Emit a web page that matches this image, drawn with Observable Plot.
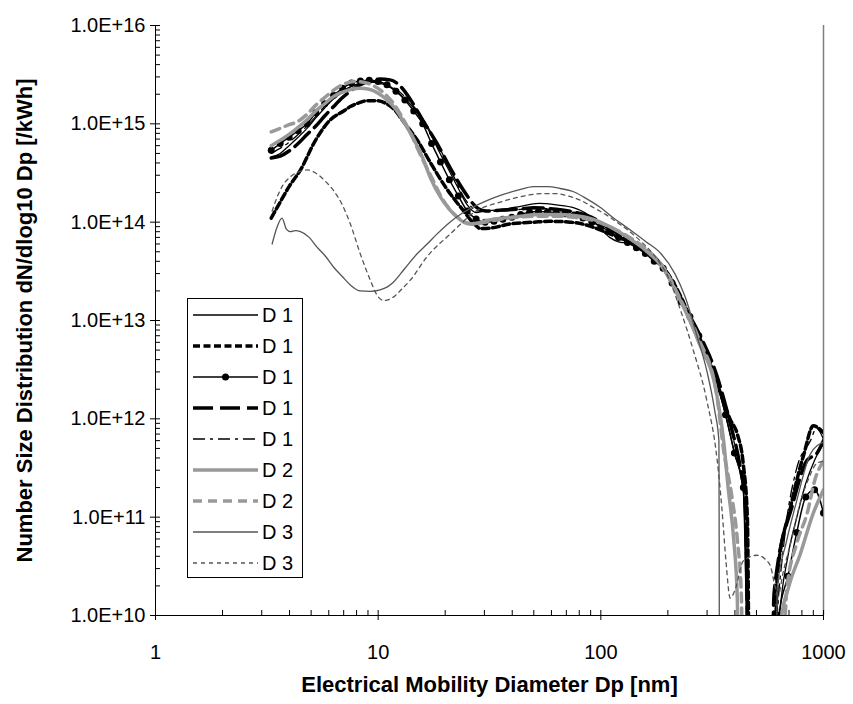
<!DOCTYPE html>
<html><head><meta charset="utf-8">
<script src="https://cdn.jsdelivr.net/npm/d3@7"></script>
<script src="https://cdn.jsdelivr.net/npm/@observablehq/plot@0.6"></script>
<style>body{margin:0;background:#fff;} #chart{width:853px;height:704px;}</style>
</head><body><div id="chart"></div>
<script>
const xTicksMajor = [1, 10, 100, 1000];
const xTickLabels = ["1", "10", "100", "1000"];
const yTicksMajor = [1e10, 1e11, 1e12, 1e13, 1e14, 1e15, 1e16];
const yTickLabels = ["1.0E+10", "1.0E+11", "1.0E+12", "1.0E+13", "1.0E+14", "1.0E+15", "1.0E+16"];
const xTitle = "Electrical Mobility Diameter Dp [nm]";
const yTitle = "Number Size Distribution dN/dlog10 Dp [/kWh]";
const legendLabels = ["D 1", "D 1", "D 1", "D 1", "D 1", "D 2", "D 2", "D 3", "D 3"];

// [diameter nm, dN/dlogDp]
const d1Thin = [[3.31,4.6e14],[3.63,5.0e14],[3.98,6.0e14],[4.37,7.3e14],[4.79,9.0e14],[5.25,1.15e15],[5.75,1.45e15],[6.31,1.8e15],[6.92,2.1e15],[7.59,2.4e15],[8.32,2.55e15],[9.12,2.65e15],[10.0,2.6e15],[10.96,2.45e15],[12.02,2.15e15],[13.18,1.8e15],[14.45,1.45e15],[15.85,1.1e15],[17.38,7.5e14],[19.05,4.9e14],[20.89,3.3e14],[22.91,2.2e14],[25.12,1.5e14],[27.54,1.25e14],[30.2,1.3e14],[36.31,1.35e14],[43.65,1.45e14],[52.48,1.55e14],[63.1,1.5e14],[75.86,1.4e14],[91.2,1.1e14],[100,8.5e13],[109.6,7.0e13],[120.2,6.3e13],[131.8,6.1e13],[158.5,5.0e13],[190.5,3.3e13],[229.1,1.5e13],[275.4,6.5e12],[331.1,2.3e12],[363.1,1.1e12],[398.1,4.5e11],[436.5,1.8e11],[470,1e8],[600,1e8],[631,8e9],[692,4e10],[759,1.0e11],[832,2.2e11],[912,3.8e11],[1000,5.6e11]];
const d1Dash = [[3.31,1.1e14],[3.63,1.6e14],[3.98,2.3e14],[4.48,3.4e14],[5.23,6.8e14],[6.1,1.1e15],[7.0,1.35e15],[7.5,1.5e15],[8.3,1.65e15],[8.9,1.72e15],[9.9,1.72e15],[10.8,1.62e15],[11.8,1.4e15],[13.0,1.05e15],[15.0,6.8e14],[17.2,4.0e14],[20.0,2.3e14],[24.2,1.3e14],[27.0,9.6e13],[28.8,8.6e13],[33,8.8e13],[39,9.6e13],[50,1.0e14],[59,1.02e14],[73,1.0e14],[87,9.3e13],[100,8.3e13],[120,7.0e13],[140,6.0e13],[170,4.5e13],[200,3.0e13],[230,1.7e13],[260,9e12],[300,4.5e12],[340,2.0e12],[380,1.0e12],[410,7.0e11],[436,3.5e11],[455,1e11],[470,1e8],[590,1e8],[620,2.5e10],[711,1.26e11],[817,4.4e11],[900,8.5e11],[1000,7.2e11]];
const d1Mark = [[3.31,5.4e14],[3.63,6.3e14],[3.98,7.3e14],[4.37,8.5e14],[4.79,1.0e15],[5.25,1.3e15],[5.75,1.6e15],[6.31,1.95e15],[6.92,2.3e15],[7.59,2.6e15],[8.32,2.72e15],[9.12,2.78e15],[10.0,2.7e15],[10.96,2.5e15],[12.02,2.15e15],[13.18,1.75e15],[14.45,1.35e15],[15.85,1.0e15],[17.38,6.3e14],[19.05,4.1e14],[20.89,2.7e14],[22.91,1.85e14],[25.12,1.3e14],[27.54,1.08e14],[30.2,1.0e14],[33.11,1.02e14],[36.31,1.07e14],[39.81,1.12e14],[43.65,1.2e14],[47.86,1.26e14],[52.48,1.28e14],[57.54,1.27e14],[63.1,1.25e14],[69.18,1.22e14],[75.86,1.18e14],[83.18,1.1e14],[91.2,1.0e14],[100,9.0e13],[109.6,8.0e13],[120.2,7.0e13],[131.8,6.2e13],[144.5,5.5e13],[158.5,4.8e13],[173.8,4.0e13],[190.5,3.4e13],[208.9,2.4e13],[229.1,1.55e13],[251.2,1.1e13],[275.4,7.0e12],[302,4.3e12],[331.1,2.4e12],[363.1,1.1e12],[398.1,4.5e11],[436.5,2.0e11],[478.6,1e8],[524.8,1e8],[575.4,1e8],[631,1.0e10],[691.8,2.5e10],[758.6,7.0e10],[831.8,1.6e11],[912,1.9e11],[1000,1.1e11]];
const d1Long = [[3.31,4.5e14],[3.63,4.7e14],[3.98,5.3e14],[4.37,6.3e14],[4.79,7.8e14],[5.25,9.5e14],[5.75,1.2e15],[6.31,1.5e15],[6.92,1.85e15],[7.59,2.2e15],[8.32,2.5e15],[9.12,2.72e15],[10.2,2.85e15],[11.3,2.8e15],[12.5,2.45e15],[14.0,1.75e15],[16.0,1.05e15],[18.4,6.3e14],[21,3.6e14],[24.2,2.1e14],[28.2,1.37e14],[30.6,1.3e14],[36,1.33e14],[43,1.36e14],[50,1.4e14],[63,1.35e14],[75,1.27e14],[91,1.12e14],[110,8.5e13],[130,6.8e13],[158,5.3e13],[190,3.5e13],[229,1.6e13],[275,7.5e12],[331,2.8e12],[381,9e11],[420,3.5e11],[445,1.5e11],[470,1e8],[575,1e8],[600,1.7e10],[730,1.4e11],[845,3.8e11],[930,4.4e11],[1000,6e11]];
const d1DashDot = [[3.31,5.0e14],[3.98,6.5e14],[4.79,9.5e14],[5.75,1.5e15],[6.92,2.15e15],[8.32,2.6e15],[9.5,2.7e15],[10.5,2.6e15],[12.02,2.25e15],[14.45,1.5e15],[17.38,8.0e14],[20.89,3.6e14],[25.12,1.6e14],[28,1.3e14],[30.2,1.28e14],[36.31,1.3e14],[43.65,1.35e14],[52.48,1.38e14],[63.1,1.35e14],[75.86,1.28e14],[91.2,1.12e14],[109.6,8.8e13],[131.8,6.8e13],[158.5,5.2e13],[190.5,3.4e13],[229.1,1.55e13],[275.4,7e12],[331.1,2.6e12],[381,8.5e11],[420,3e11],[445,1.2e11],[470,1e8],[575,1e8],[610,5e9],[664,5.4e10],[754,3.0e11],[874,6.0e11],[930,8.0e11],[1000,6.2e11]];
const d2Solid = [[3.31,6.0e14],[3.63,6.8e14],[3.98,7.8e14],[4.37,9.2e14],[4.79,1.1e15],[5.25,1.35e15],[5.75,1.6e15],[6.31,1.9e15],[6.92,2.1e15],[7.59,2.25e15],[8.32,2.3e15],[9.12,2.25e15],[10.0,2.05e15],[10.96,1.75e15],[12.02,1.4e15],[13.18,1.0e15],[14.45,7e14],[15.85,4.5e14],[17.2,2.8e14],[19.05,1.8e14],[20.89,1.35e14],[22.91,1.1e14],[24.2,1.0e14],[26,9.6e13],[28,9.8e13],[30.2,1.03e14],[36.31,1.1e14],[43.65,1.15e14],[52.48,1.2e14],[63.1,1.2e14],[75.86,1.17e14],[91.2,1.08e14],[109.6,9.0e13],[131.8,7.0e13],[158.5,5.2e13],[190.5,3.4e13],[229.1,1.55e13],[275.4,6e12],[331.1,1.8e12],[356,6e11],[373,2e11],[395,6e10],[410,1.5e10],[425,1e8],[600,1e8],[640,8e9],[700,2e10],[786,4.2e10],[900,1.1e11],[1000,1.9e11]];
const d2Dash = [[3.31,8.3e14],[3.63,9.0e14],[3.98,9.8e14],[4.33,1.05e15],[4.79,1.25e15],[5.25,1.55e15],[5.75,1.85e15],[6.31,2.2e15],[6.92,2.5e15],[7.8,2.7e15],[8.6,2.65e15],[9.5,2.45e15],[10.5,2.1e15],[11.5,1.7e15],[12.6,1.25e15],[14.0,8e14],[15.5,4.8e14],[17.2,3.0e14],[19.5,1.7e14],[22,1.2e14],[24.5,1.0e14],[27,9.5e13],[30.2,1.0e14],[36.31,1.08e14],[43.65,1.13e14],[52.48,1.15e14],[63.1,1.15e14],[75.86,1.12e14],[91.2,1.05e14],[109.6,9e13],[131.8,7.2e13],[158.5,5.4e13],[190.5,3.5e13],[229.1,1.6e13],[275.4,6.5e12],[331.1,1.8e12],[356,4.8e11],[388,1.6e11],[410,6e10],[428,1.5e10],[440,1e8],[620,1e8],[685,1.9e10],[760,5.5e10],[845,1.1e11],[920,2.5e11],[1000,3.7e11]];
const d3Solid = [[3.34,6e13],[3.52,9e13],[3.7,1.1e14],[3.87,8.5e13],[4.04,8e13],[4.25,8.2e13],[4.48,8e13],[4.9,7e13],[5.3,5.6e13],[5.8,4.5e13],[6.3,3.5e13],[6.9,2.8e13],[7.5,2.3e13],[8.3,2.0e13],[9.2,1.98e13],[10.2,2.05e13],[11.0,2.2e13],[11.7,2.45e13],[13.2,3.4e13],[15.0,4.8e13],[16.6,6e13],[18.4,7.6e13],[21,1.0e14],[24.2,1.26e14],[29.7,1.6e14],[35.4,1.87e14],[42,2.1e14],[49.9,2.3e14],[58,2.3e14],[65.7,2.2e14],[75,2.05e14],[83.9,1.8e14],[100,1.4e14],[114,1.1e14],[125,9.5e13],[140,7.9e13],[160,6.3e13],[186,4.8e13],[215,3.0e13],[240,1.7e13],[270,7e12],[300,3e12],[325,1.2e12],[339,6e11],[342,1e8],[605,1e8],[620,1.9e10],[680,5.5e10],[754,1.4e11],[874,4.4e11],[1000,5.8e11]];
const d3Dot = [[3.34,1.3e14],[3.45,1.6e14],[3.7,2.3e14],[4.04,2.9e14],[4.5,3.3e14],[4.8,3.4e14],[5.3,3.1e14],[5.8,2.6e14],[6.3,2.1e14],[6.9,1.5e14],[7.5,9.6e13],[8.3,4.8e13],[9.2,2.6e13],[9.9,1.8e13],[10.6,1.6e13],[11.7,1.73e13],[12.8,2.1e13],[14.0,2.6e13],[16.5,4.4e13],[21.1,7.6e13],[27.6,1.3e14],[35.4,1.6e14],[43,1.8e14],[53.9,1.95e14],[63,1.95e14],[71,1.85e14],[82,1.65e14],[93,1.4e14],[105,1.2e14],[118,1.0e14],[135,8e13],[150,6.5e13],[175,4.5e13],[200,2.8e13],[230,1.2e13],[260,5e12],[298,1.6e12],[333,3.8e11],[350,1.2e11],[365,3.5e10],[381,1.5e10],[400,1.8e10],[437,3.6e10],[503,4.1e10],[550,3.7e10],[580,3.1e10],[605,2.0e10],[625,1.6e10],[660,2.8e10],[720,6e10],[786,1.4e11],[860,2.5e11],[930,3.5e11],[1000,3.7e11]];

const series = [
  {data: d1Thin, stroke: "#000", w: 1.3},
  {data: d1Dash, stroke: "#000", w: 3.5, dash: "7,3.5"},
  {data: d1Mark, stroke: "#000", w: 1.5, marker: true},
  {data: d1Long, stroke: "#000", w: 3.5, dash: "20,7"},
  {data: d1DashDot, stroke: "#000", w: 1.3, dash: "12,5,3,5"},
  {data: d2Solid, stroke: "#999", w: 3.5},
  {data: d2Dash, stroke: "#999", w: 3.5, dash: "9,6"},
  {data: d3Solid, stroke: "#555", w: 1.3},
  {data: d3Dot, stroke: "#555", w: 1.3, dash: "4,4"}
];

const allY = d3.scaleLog().domain([1e10, 1e16]).ticks();
const yMinor = allY.filter(v => !yTicksMajor.some(m => Math.abs(m - v) / m < 1e-9));
const allX = d3.scaleLog().domain([1, 1000]).ticks();
const xMinor = allX.filter(v => !xTicksMajor.includes(v));

const marks = [];
series.forEach(s => {
  const o = {x: d => d[0], y: d => d[1], stroke: s.stroke, strokeWidth: s.w, curve: "monotone-x", clip: true};
  if (s.dash) o.strokeDasharray = s.dash;
  marks.push(Plot.line(s.data, o));
  if (s.marker) marks.push(Plot.dot(s.data, {x: d => d[0], y: d => d[1], r: 3.5, fill: "#000", clip: true}));
});

const plot = Plot.plot({
  width: 853, height: 704,
  marginLeft: 155, marginRight: 30, marginTop: 25, marginBottom: 89,
  x: {type: "log", domain: [1, 1000]},
  y: {type: "log", domain: [1e10, 1e16]},
  style: {fontFamily: "'Liberation Sans', Arial, sans-serif", fontSize: "20px", background: "#fff", color: "#000"},
  marks: [
    Plot.ruleX([1000], {stroke: "#808080", strokeWidth: 1.5}),
    ...marks,
    Plot.ruleX([1], {stroke: "#000"}),
    Plot.ruleY([1e10], {stroke: "#000"}),
    Plot.axisY({ticks: yTicksMajor, tickSize: 5, tickPadding: 5, label: null, tickFormat: d => yTickLabels[yTicksMajor.findIndex(m => Math.abs(m - d) / m < 1e-9)]}),
    Plot.axisY({ticks: yTicksMajor, tickSize: 5, dx: 5, label: null, tickFormat: () => ""}),
    Plot.axisY({ticks: yMinor, tickSize: 5, dx: 5, label: null, tickFormat: () => ""}),
    Plot.axisX({ticks: xTicksMajor, tickSize: 5, tickPadding: 24, label: null, tickFormat: d => xTickLabels[xTicksMajor.indexOf(d)]}),
    Plot.axisX({ticks: xTicksMajor, tickSize: 5, dy: -5, label: null, tickFormat: () => ""}),
    Plot.axisX({ticks: xMinor, tickSize: 5, dy: -5, label: null, tickFormat: () => ""}),
    Plot.text([xTitle], {frameAnchor: "bottom", dy: 69, fontWeight: "bold", fontSize: 22, lineAnchor: "middle", textAnchor: "middle"}),
    Plot.text([yTitle], {frameAnchor: "left", dx: -131, rotate: -90, fontWeight: "bold", fontSize: 22, textAnchor: "middle"})
  ]
});

// legend inside plot area
const svg = d3.select(plot);
const lg = svg.append("g").attr("class", "legend").attr("text-anchor", "start");
const lx = 187, ly = 298, lw = 115, lh = 279;
lg.append("rect").attr("x", lx + 0.5).attr("y", ly + 0.5).attr("width", lw).attr("height", lh)
  .attr("fill", "#fff").attr("stroke", "#000").attr("stroke-width", 1);
series.forEach((s, i) => {
  const yy = ly + 17 + 31 * i;
  const ln = lg.append("line").attr("x1", lx + 6).attr("x2", lx + 71).attr("y1", yy).attr("y2", yy)
    .attr("stroke", s.stroke).attr("stroke-width", s.w);
  if (s.dash) ln.attr("stroke-dasharray", s.dash);
  if (s.marker) lg.append("circle").attr("cx", lx + 38.5).attr("cy", yy).attr("r", 3.5).attr("fill", "#000");
  lg.append("text").attr("x", lx + 75).attr("y", yy).attr("dy", "0.35em").attr("text-anchor", "start")
    .attr("font-size", 20).attr("fill", "#000").text(legendLabels[i]);
});

document.getElementById("chart").appendChild(plot);
</script></body></html>
